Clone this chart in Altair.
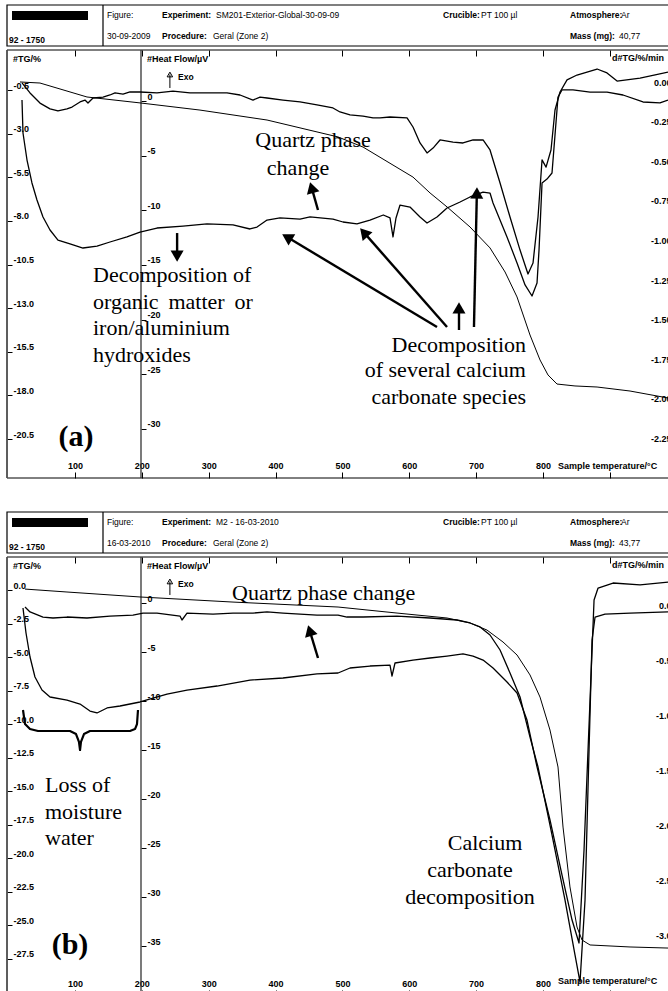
import math
import altair as alt
import pandas as pd

W, H = 668, 991
SANS = "Liberation Sans"
SERIF = "Liberation Serif"

# Sample temperature range shown across the page (°C)
T_DOM = [-12.1, 987.0]

# ---------------- panel (a): SM201-Exterior-Global ----------------
a_tg_T = [17.8, 47.7, 118.0, 197.3, 287.0, 387.3, 493.5, 530.9, 605.6, 631.1, 656.5, 690.9,
          720.8, 743.3, 761.2, 780.6, 795.6, 807.5, 821.0, 847.9, 880.9, 930.2, 987.0]
a_tg = [-0.04, -0.10, -0.90, -1.24, -1.65, -2.22, -3.19, -3.77, -5.49, -6.40, -7.20, -8.35,
        -9.55, -10.93, -12.36, -14.54, -15.97, -16.83, -17.35, -17.46, -17.52, -17.75, -18.15]

a_dsc_T = [20.8, 22.3, 28.3, 35.7, 43.2, 52.2, 62.7, 74.6, 92.6, 112.0, 133.0, 152.4, 177.8,
           197.3, 222.7, 261.6, 297.5, 336.4, 361.8, 372.3, 387.3, 406.7, 436.6, 451.6, 486.0,
           500.9, 521.8, 541.3, 561.2, 571.2, 575.7, 580.2, 586.2, 601.1, 616.1, 626.6, 641.5,
           656.5, 676.0, 690.9, 710.4, 720.8, 725.3, 746.2, 761.2, 773.2, 783.6, 791.1, 794.1,
           798.6, 806.0, 813.5, 822.5, 828.5, 844.9, 870.4, 895.8, 919.7, 949.6, 975.0, 987.0]
a_dsc = [0.09, -2.93, -5.40, -7.50, -9.06, -10.61, -11.80, -12.72, -13.08, -13.45, -13.27,
         -12.90, -12.44, -11.99, -11.62, -11.44, -11.25, -11.34, -11.71, -11.53, -10.89, -10.70,
         -10.80, -10.61, -10.80, -11.07, -11.25, -10.89, -10.43, -10.70, -12.44, -10.70, -9.52,
         -9.70, -10.61, -11.16, -10.61, -9.79, -9.24, -8.78, -8.33, -8.42, -9.33, -12.44, -14.82,
         -16.83, -17.84, -16.65, -13.63, -7.50, -7.14, -6.59, 0.37, 1.01, 1.01, 0.82, 0.82, 0.55,
         -0.09, -0.18, 0.09]

a_dtg_T = [20.8, 32.8, 47.7, 62.7, 74.6, 88.1, 95.6, 107.6, 115.0, 119.5, 127.0, 142.0, 152.4,
           159.9, 171.9, 182.3, 197.3, 222.7, 246.6, 272.0, 297.5, 327.4, 346.9, 366.3, 376.8,
           387.3, 411.2, 436.6, 462.0, 485.9, 496.4, 511.4, 530.9, 545.8, 556.3, 571.2, 596.7,
           605.6, 616.1, 626.6, 635.6, 646.0, 665.5, 680.4, 695.4, 710.4, 720.8, 735.8, 750.7,
           765.7, 777.6, 785.1, 792.6, 798.6, 804.6, 812.0, 818.0, 825.5, 836.0, 850.9, 880.9,
           895.8, 910.8, 945.2, 987.0]
a_dtg = [-0.006, -0.069, -0.133, -0.170, -0.183, -0.170, -0.158, -0.126, -0.114, -0.133, -0.101,
         -0.095, -0.082, -0.069, -0.076, -0.063, -0.063, -0.069, -0.057, -0.069, -0.069, -0.069,
         -0.082, -0.114, -0.095, -0.101, -0.114, -0.126, -0.145, -0.164, -0.189, -0.208, -0.215,
         -0.227, -0.227, -0.221, -0.227, -0.284, -0.385, -0.448, -0.417, -0.366, -0.379, -0.385,
         -0.366, -0.366, -0.429, -0.638, -0.852, -1.061, -1.212, -1.143, -0.852, -0.492, -0.537,
         -0.429, -0.177, -0.063, 0.013, 0.044, 0.082, 0.057, 0.006, 0.025, 0.063]

# ---------------- panel (b): M2 ----------------
b_tg_T = [25.3, 88.1, 197.3, 336.4, 493.5, 581.7, 656.5, 690.9, 716.3, 740.2, 761.2, 780.6,
          795.6, 810.5, 822.5, 830.0, 840.4, 850.9, 858.4, 870.4, 930.2, 987.0]
b_tg = [0.07, -0.15, -0.52, -0.90, -1.27, -1.72, -2.09, -2.46, -2.99, -3.88, -4.85, -6.34,
        -7.99, -10.45, -13.21, -17.69, -22.16, -25.15, -26.12, -26.49, -26.64, -26.72]

b_dsc_T = [22.3, 26.8, 32.8, 40.2, 50.7, 62.7, 88.1, 107.6, 122.5, 133.0, 148.0, 167.4, 197.3,
           237.7, 267.6, 312.5, 361.8, 411.2, 462.0, 493.5, 511.4, 541.3, 571.2, 574.2, 578.7,
           605.6, 631.1, 656.5, 680.4, 695.4, 710.4, 725.3, 746.2, 761.2, 776.1, 791.1, 810.5,
           828.5, 843.5, 853.9, 861.4, 870.4, 876.4, 882.4, 904.8, 945.2, 987.0]
b_dsc = [-0.51, -3.06, -5.51, -7.55, -8.88, -9.59, -9.90, -10.31, -11.02, -11.22, -10.71, -10.51,
         -10.10, -9.29, -8.88, -8.47, -7.86, -7.65, -7.24, -7.14, -6.63, -6.43, -6.33, -7.45,
         -6.12, -5.82, -5.61, -5.41, -5.20, -5.41, -5.82, -6.63, -8.06, -9.18, -11.94, -16.73,
         -22.14, -27.76, -32.35, -34.69, -25.20, -9.90, 0.31, 1.53, 2.04, 1.84, 2.14]

b_dtg_T = [25.3, 32.8, 52.2, 67.2, 88.1, 118.0, 152.4, 186.8, 201.8, 222.7, 257.1, 260.1, 267.6,
           306.5, 336.4, 366.3, 387.3, 411.2, 436.6, 462.0, 493.5, 506.9, 530.9, 581.7, 631.1,
           671.5, 690.9, 705.9, 720.8, 735.8, 750.7, 765.7, 780.6, 792.6, 813.5, 832.9, 847.9,
           855.4, 862.9, 868.9, 873.4, 877.9, 892.8, 930.2, 987.0]
b_dtg = [-0.018, -0.063, -0.109, -0.118, -0.109, -0.118, -0.100, -0.091, -0.073, -0.073, -0.100,
         -0.136, -0.073, -0.082, -0.073, -0.073, -0.063, -0.073, -0.082, -0.091, -0.091, -0.109,
         -0.109, -0.100, -0.118, -0.136, -0.163, -0.199, -0.272, -0.408, -0.616, -0.834, -1.197,
         -1.469, -2.085, -2.674, -3.173, -3.418, -2.674, -1.315, -0.317, -0.109, -0.082, -0.073,
         -0.063]

# moisture-loss brace under the DSC trough of panel (b), in DSC(b) units
brace_T = [22.3, 25.3, 32.8, 44.7, 92.6, 101.6, 106.0, 107.6, 109.0, 113.5, 122.5, 182.3, 189.8,
           192.8, 194.3]
brace_v = [-10.92, -12.35, -12.86, -13.06, -13.06, -13.37, -14.18, -15.00, -14.18, -13.37,
           -13.06, -13.06, -12.86, -12.35, -10.92]

# annotation arrows: tail (T, µV) -> tip (T, µV)
a_arrows = [
    (463.5, -9.97, 451.6, -7.41),
    (252.8, -12.08, 252.8, -14.73),
    (641.5, -20.68, 409.7, -12.17),
    (656.5, -20.68, 526.3, -11.62),
    (674.4, -20.95, 674.4, -18.39),
    (696.8, -20.68, 701.3, -7.87),
]
b_arrows = [
    (463.5, -5.61, 448.6, -2.24),
]
# "Exo" direction marker, in DSC units: tail -> tip
a_exo = [(242.0, 1.19, 242.0, 2.65)]
b_exo = [(242.0, 0.82, 242.0, 2.45)]

# axis tick values
a_tg_ticks = [-0.5, -3.0, -5.5, -8.0, -10.5, -13.0, -15.5, -18.0, -20.5]
a_dsc_ticks = [0, -5, -10, -15, -20, -25, -30]
a_dtg_ticks = [0.0, -0.25, -0.5, -0.75, -1.0, -1.25, -1.5, -1.75, -2.0, -2.25]
b_tg_ticks = [0.0, -2.5, -5.0, -7.5, -10.0, -12.5, -15.0, -17.5, -20.0, -22.5, -25.0, -27.5]
b_dsc_ticks = [0, -5, -10, -15, -20, -25, -30, -35]
b_dtg_ticks = [0.0, -0.5, -1.0, -1.5, -2.0, -2.5, -3.0]
t_ticks = [100, 200, 300, 400, 500, 600, 700, 800, 900]

# y-scale domains (value at page bottom, value at page top)
A_TG = [-52.133, 4.658]
A_DSC = [-81.427, 9.241]
A_DTG = [-5.7386, 0.5177]
B_TG = [-29.925, 44.03]
B_DSC = [-39.59, 61.53]
B_DTG = [-3.4995, 5.485]

MINUS = "\u2212"
xscale = alt.Scale(domain=T_DOM, nice=False, zero=False)


def yaxis(values, fmt, orient, xpos, baseline="bottom"):
    offset = (xpos - W) if orient == "right" else -xpos
    return alt.Axis(
        orient=orient, offset=offset, values=values, format=fmt,
        labelExpr=f"replace(datum.label, '{MINUS}', '-')",
        domain=False, grid=False, ticks=True, tickSize=5, tickWidth=1, tickColor="black",
        labelFont=SANS, labelFontSize=9, labelFontWeight="bold", labelColor="black",
        labelBaseline=baseline, labelPadding=1, labelFlush=False, labelOverlap=False,
        title=None,
    )


def xaxis(orient, ypos, labels):
    offset = -ypos if orient == "top" else ypos - H
    kw = dict(
        orient=orient, offset=offset, values=t_ticks, domain=False, grid=False,
        ticks=True, tickSize=6, tickWidth=1, tickColor="black", title=None,
        labelFlush=False, labelOverlap=False,
    )
    if labels:
        kw.update(labels=True, labelExpr="datum.value <= 800 ? datum.label : ''",
                  labelFont=SANS, labelFontSize=9, labelFontWeight="bold",
                  labelColor="black", labelPadding=2, labelBaseline="bottom")
    else:
        kw.update(labels=False)
    return alt.Axis(**kw)


def curve(T, v, dom, yax, xax=None, width=1.3):
    df = pd.DataFrame({"T": T, "v": v, "i": range(len(T))})
    return alt.Chart(df).mark_line(color="black", strokeWidth=width, strokeJoin="round").encode(
        x=alt.X("T:Q", scale=xscale, axis=xax),
        y=alt.Y("v:Q", scale=alt.Scale(domain=dom, nice=False, zero=False), axis=yax),
        order="i:Q",
    )


def arrows(rows, dom, shaft_w=2.4, head_size=170, filled=True):
    kx = W / (T_DOM[1] - T_DOM[0])
    ky = H / (dom[1] - dom[0])
    recs = []
    for T1, v1, T2, v2 in rows:
        dx = (T2 - T1) * kx
        dy = -(v2 - v1) * ky
        L = math.hypot(dx, dy)
        ux, uy = dx / L, dy / L
        ang = math.degrees(math.atan2(ux, -uy)) % 360
        back = 0.45 * math.sqrt(head_size)
        recs.append(dict(T1=T1, v1=v1, Tc=T2 - ux * back / kx, vc=v2 + uy * back / ky, ang=ang))
    df = pd.DataFrame(recs)
    ys = alt.Scale(domain=dom, nice=False, zero=False)
    shaft = alt.Chart(df).mark_rule(color="black", strokeWidth=shaft_w).encode(
        x=alt.X("T1:Q", scale=xscale, axis=None), x2="Tc:Q",
        y=alt.Y("v1:Q", scale=ys, axis=None), y2="vc:Q",
    )
    head = alt.Chart(df).mark_point(shape="triangle-up", filled=filled, color="black",
                                    size=head_size, opacity=1, strokeWidth=1).encode(
        x=alt.X("Tc:Q", scale=xscale, axis=None),
        y=alt.Y("vc:Q", scale=ys, axis=None),
        angle=alt.Angle("ang:Q", scale=None),
    )
    return [shaft, head]


ONE = pd.DataFrame({"k": [0]})


def text(s, x, y, size, weight="normal", font=SANS, align="left", color="black"):
    return alt.Chart(ONE).mark_text(
        align=align, baseline="middle", fontSize=size, fontWeight=weight, font=font, color=color
    ).encode(x=alt.value(x), y=alt.value(y), text=alt.value(s))


def box(x, x2, y, y2, color="black", width=1.0, fill=None):
    kw = dict(stroke=color, strokeWidth=width)
    if fill:
        kw.update(fill=fill, filled=True)
    else:
        kw.update(filled=False, fillOpacity=0)
    return alt.Chart(ONE).mark_rect(**kw).encode(
        x=alt.value(x), x2=alt.value(x2), y=alt.value(y), y2=alt.value(y2))


def vline(x, y, y2, color="black", width=1.0):
    return alt.Chart(ONE).mark_rule(color=color, strokeWidth=width).encode(
        x=alt.value(x), y=alt.value(y), y2=alt.value(y2))


def header(dy, experiment, date, mass):
    top = 5 + dy
    return [
        box(7, 720, top, top + 41, width=1.2),
        vline(103, top, top + 41, width=1.2),
        box(12, 88, top + 6, top + 15, fill="black", width=0),
        text("92 - 1750", 9, top + 35, 8.5, "bold"),
        text("Figure:", 107, top + 10, 8.5),
        text("Experiment:", 162, top + 10, 8.5, "bold"),
        text(experiment, 216, top + 10, 8.5),
        text("Crucible:", 443, top + 10, 8.5, "bold"),
        text("PT 100 µl", 481, top + 10, 8.5),
        text("Atmosphere:", 570, top + 10, 8.5, "bold"),
        text("Ar", 621, top + 10, 8.5),
        text(date, 107, top + 31, 8.5),
        text("Procedure:", 162, top + 31, 8.5, "bold"),
        text("Geral (Zone 2)", 213, top + 31, 8.5),
        text("Mass (mg):", 570, top + 31, 8.5, "bold"),
        text(mass, 619, top + 31, 8.5),
    ]


def panel_frame(top, bottom):
    return [
        box(7, 720, top, bottom, width=1.0),
        vline(7, top, bottom, color="#555", width=1.6),
        vline(141, top, bottom, color="#333", width=1.3),
        text("#TG/%", 13, top + 9, 9, "bold"),
        text("#Heat Flow/µV", 147, top + 9, 9, "bold"),
        text("d#TG/%/min", 612, top + 8, 9, "bold"),
        text("Exo", 178, top + 27, 8.5, "bold"),
    ]


SERIF_SIZE = 22
layers = []

# ---- panel (a) ----
layers += header(0, "SM201-Exterior-Global-30-09-09", "30-09-2009", "40,77")
layers += panel_frame(50, 478)
layers += arrows(a_exo, A_DSC, shaft_w=1.0, head_size=30, filled=False)
layers.append(text("Sample temperature/°C", 558, 466, 9, "bold"))
layers.append(curve(a_tg_T, a_tg, A_TG, yaxis(a_tg_ticks, ".1f", "right", 7),
                    xaxis("top", 478, True), width=1.0))
layers.append(curve(a_dsc_T, a_dsc, A_DSC, yaxis(a_dsc_ticks, "d", "right", 141),
                    xaxis("bottom", 50, False), width=1.3))
layers.append(curve(a_dtg_T, a_dtg, A_DTG, yaxis(a_dtg_ticks, ".2f", "left", 677, "middle"),
                    None, width=1.3))
layers += arrows(a_arrows, A_DSC)
for s, x, y in [("Quartz phase", 313, 140), ("change", 298, 168)]:
    layers.append(text(s, x, y, SERIF_SIZE, font=SERIF, align="center"))
for s, y in [("Decomposition of", 275), ("organic\u2009 matter\u2009 or", 302),
             ("iron/aluminium", 328), ("hydroxides", 355)]:
    layers.append(text(s, 93, y, SERIF_SIZE, font=SERIF))
for s, y in [("Decomposition", 345), ("of several calcium", 370), ("carbonate species", 397)]:
    layers.append(text(s, 526, y, SERIF_SIZE, font=SERIF, align="right"))
layers.append(text("(a)", 76, 437, 30, "bold", font=SERIF, align="center"))

# ---- panel (b) ----
layers += header(507, "M2 - 16-03-2010", "16-03-2010", "43,77")
layers += panel_frame(557, 996)
layers += arrows(b_exo, B_DSC, shaft_w=1.0, head_size=30, filled=False)
layers.append(text("Sample temperature/°C", 558, 981, 9, "bold"))
layers.append(curve(b_tg_T, b_tg, B_TG, yaxis(b_tg_ticks, ".1f", "right", 7),
                    xaxis("top", 996, True), width=1.0))
layers.append(curve(b_dsc_T, b_dsc, B_DSC, yaxis(b_dsc_ticks, "d", "right", 141),
                    xaxis("bottom", 557, False), width=1.3))
layers.append(curve(b_dtg_T, b_dtg, B_DTG, yaxis(b_dtg_ticks, ".1f", "left", 677, "middle"),
                    None, width=1.3))
layers += arrows(b_arrows, B_DSC)
layers.append(
    alt.Chart(pd.DataFrame({"T": brace_T, "v": brace_v, "i": range(len(brace_T))}))
    .mark_line(color="black", strokeWidth=2.2, strokeJoin="round")
    .encode(x=alt.X("T:Q", scale=xscale, axis=None),
            y=alt.Y("v:Q", scale=alt.Scale(domain=B_DSC, nice=False, zero=False), axis=None),
            order="i:Q")
)
layers.append(text("Quartz phase change", 232, 593, SERIF_SIZE, font=SERIF))
for s, y in [("Loss of", 785), ("moisture", 812), ("water", 838)]:
    layers.append(text(s, 45, y, SERIF_SIZE, font=SERIF))
for s, x, y in [("Calcium", 485, 843), ("carbonate", 470, 870), ("decomposition", 470, 897)]:
    layers.append(text(s, x, y, SERIF_SIZE, font=SERIF, align="center"))
layers.append(text("(b)", 70, 945, 30, "bold", font=SERIF, align="center"))

chart = (
    alt.layer(*layers)
    .resolve_scale(y="independent", x="shared")
    .resolve_axis(y="independent", x="independent")
    .properties(width=W, height=H, autosize=alt.AutoSizeParams(type="none"), padding=0,
                background="white")
    .configure_view(stroke=None)
)

chart.save("out.html", embed_options={"renderer": "svg", "actions": False})
